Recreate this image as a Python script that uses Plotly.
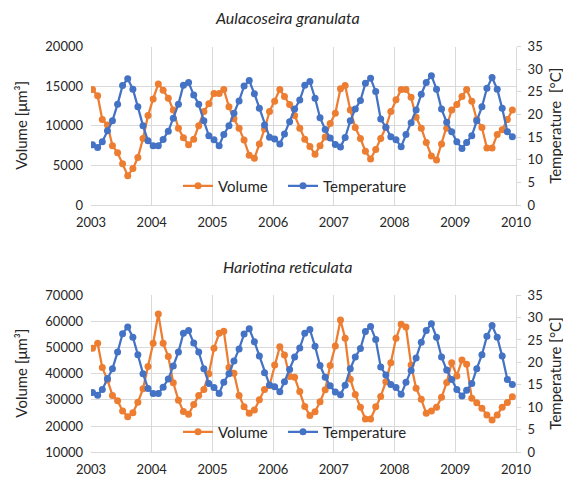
import plotly.graph_objects as go

# ---------------- data ----------------
months = list(range(84))
dates = [f"{2003 + m // 12}-{m % 12 + 1:02d}-10" for m in months]
year_ticks = [str(y) for y in range(2003, 2011)]

temperature = [
    13.3, 12.7, 14.0, 16.4, 18.6, 22.3, 26.4, 27.9, 25.6, 21.7, 17.5, 14.2,
    13.1, 13.1, 14.5, 16.3, 19.2, 22.3, 26.5, 27.1, 24.3, 22.3, 18.6, 15.3,
    14.4, 13.1, 15.6, 17.5, 20.3, 23.0, 26.3, 27.5, 24.6, 21.4, 17.7, 15.0,
    14.6, 13.5, 15.7, 18.4, 21.2, 23.2, 26.5, 27.3, 23.6, 19.3, 16.7, 14.8,
    13.4, 12.8, 14.9, 18.6, 21.2, 23.1, 26.9, 28.0, 25.1, 19.0, 17.2, 15.1,
    14.4, 12.9, 15.6, 18.2, 21.0, 24.5, 27.1, 28.6, 25.6, 21.2, 18.3, 16.2,
    14.0, 12.5, 13.8, 15.3, 18.6, 21.7, 25.8, 28.2, 25.6, 21.4, 16.2, 15.1,
]

volume_aulacoseira = [
    14600, 13800, 10800, 10100, 7500, 6600, 5200, 3700, 4600, 6000, 8400, 11300,
    13400, 15300, 14500, 13500, 12000, 9700, 8500, 7600, 8300, 10000, 11800, 12800,
    14100, 14100, 14600, 12400, 10900, 9700, 8200, 6300, 5900, 7700, 9600, 11800,
    13100, 14600, 13700, 12700, 11300, 9700, 8300, 7400, 6400, 7500, 8600, 10300,
    11600, 14700, 15100, 12000, 9800, 8400, 6800, 5800, 7000, 8400, 9800, 11800,
    13300, 14600, 14600, 13600, 11100, 9700, 7900, 6200, 5700, 7700, 9700, 12000,
    12700, 13700, 14600, 13100, 10800, 9800, 7200, 7200, 8900, 9500, 10800, 12000,
]

volume_hariotina = [
    49700, 51600, 42300, 37600, 31700, 29700, 25800, 23600, 25100, 29100, 34200, 42700,
    51600, 62800, 51600, 46500, 36500, 29900, 25600, 24500, 28200, 31700, 34000, 40000,
    49700, 55400, 56200, 42300, 40200, 31700, 27400, 24900, 26100, 30000, 34000, 35500,
    43300, 50300, 47100, 38900, 38600, 33200, 27500, 24000, 25500, 29300, 33900, 43100,
    50500, 60500, 53500, 37900, 32000, 27200, 22700, 22700, 27400, 31300, 36900, 44200,
    53500, 58800, 57800, 43300, 34400, 30200, 24900, 25800, 27200, 31000, 36600, 44200,
    39100, 45200, 43600, 30600, 28900, 26800, 24200, 22300, 24200, 27200, 29000, 31200,
]

titles = ["Aulacoseira granulata", "Hariotina reticulata"]
left_title = "Volume [μm³]"
right_titles = ["Temperature  [°C]", "Temperature [°C]"]

# ---------------- style / layout helpers ----------------
ORANGE = "#ED7D31"
BLUE = "#4472C4"
GRID = "#D9D9D9"
TXT = "#262626"
FONT = "Lato"

# the page body adds an 8px margin, so the figure is offset by (8, 8)
OX, OY = 8, 8
W, H = 571 - OX, 483 - OY


def px(x):
    return (x - OX) / W


def py(y):
    return 1 - (y - OY) / H


X_DOM = [px(91), px(516)]
TOP_DOM = [py(205), py(46.7)]
BOT_DOM = [py(452.3), py(295)]

fig = go.Figure()


def series(x, y, name, color, xa, ya, leg):
    return go.Scatter(
        x=x, y=y, name=name, mode="lines+markers",
        line=dict(color=color, width=2.25),
        marker=dict(color=color, size=7),
        xaxis=xa, yaxis=ya, legend=leg,
    )


fig.add_trace(series(dates, volume_aulacoseira, "Volume", ORANGE, "x", "y", "legend"))
fig.add_trace(series(dates, temperature, "Temperature", BLUE, "x", "y2", "legend2"))
fig.add_trace(series(dates, volume_hariotina, "Volume", ORANGE, "x2", "y3", "legend3"))
fig.add_trace(series(dates, temperature, "Temperature", BLUE, "x2", "y4", "legend4"))

tickfont = dict(family=FONT, size=13, color=TXT)

xcommon = dict(
    type="date", range=["2003-01-01", "2010-01-01"],
    tickvals=[f"{y}-01-01" for y in year_ticks], ticktext=year_ticks,
    showgrid=True, gridcolor=GRID, gridwidth=1,
    showline=True, linecolor=GRID, linewidth=1,
    ticks="", tickfont=tickfont, domain=X_DOM, zeroline=False,
    automargin=False, ticklabelstandoff=5,
)

ycommon_left = dict(
    showgrid=True, gridcolor=GRID, gridwidth=1, zeroline=False,
    showline=False, ticks="", tickfont=tickfont, tickformat="d",
    automargin=False, ticklabelstandoff=7,
)
ycommon_right = dict(
    side="right", showgrid=False, zeroline=False,
    showline=True, linecolor=GRID, linewidth=1,
    ticks="outside", ticklen=4, tickcolor=GRID,
    tickfont=tickfont, range=[0, 35], dtick=5, tick0=0,
    automargin=False, ticklabelstandoff=4,
)

legend_common = dict(
    orientation="h", xanchor="left", yanchor="middle",
    bgcolor="rgba(0,0,0,0)", font=dict(family=FONT, size=15, color=TXT),
    itemwidth=30,
)

fig.update_layout(
    width=W, height=H,
    margin=dict(l=0, r=0, t=0, b=0, autoexpand=False),
    paper_bgcolor="white", plot_bgcolor="white",
    font=dict(family=FONT, color=TXT),
    xaxis=dict(anchor="y", **xcommon),
    xaxis2=dict(anchor="y3", **xcommon),
    yaxis=dict(domain=TOP_DOM, range=[0, 20000], dtick=5000, tick0=0,
               anchor="x", **ycommon_left),
    yaxis2=dict(overlaying="y", anchor="x", **ycommon_right),
    yaxis3=dict(domain=BOT_DOM, range=[10000, 70000], dtick=10000, tick0=0,
                anchor="x2", **ycommon_left),
    yaxis4=dict(overlaying="y3", anchor="x2", **ycommon_right),
    legend=dict(x=px(178), y=py(186), **legend_common),
    legend2=dict(x=px(283), y=py(186), **legend_common),
    legend3=dict(x=px(178), y=py(432), **legend_common),
    legend4=dict(x=px(283), y=py(432), **legend_common),
    showlegend=True,
)

annotations = []
for title, yc in zip(titles, [18, 266]):
    annotations.append(dict(text=f"<i>{title}</i>", x=px(287), y=py(yc),
                            xref="paper", yref="paper", showarrow=False,
                            xanchor="center", yanchor="middle",
                            font=dict(family=FONT, size=16, color=TXT)))
for dom, rt in zip([TOP_DOM, BOT_DOM], right_titles):
    yc = (dom[0] + dom[1]) / 2
    annotations.append(dict(text=left_title, x=px(21), y=yc, xref="paper", yref="paper",
                            textangle=-90, showarrow=False,
                            xanchor="center", yanchor="middle",
                            font=dict(family=FONT, size=15, color=TXT)))
    annotations.append(dict(text=rt, x=px(555), y=yc, xref="paper", yref="paper",
                            textangle=-90, showarrow=False,
                            xanchor="center", yanchor="middle",
                            font=dict(family=FONT, size=15, color=TXT)))
fig.update_layout(annotations=annotations)

fig.write_html("out.html")
